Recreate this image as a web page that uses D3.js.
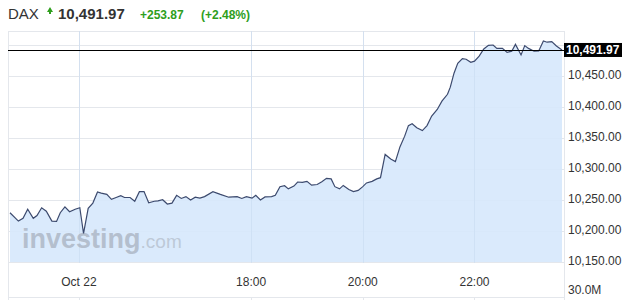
<!DOCTYPE html>
<html>
<head>
<meta charset="utf-8">
<script src="https://cdnjs.cloudflare.com/ajax/libs/d3/7.8.5/d3.min.js"></script>
<style>
  body { margin: 0; background: #fff; }
  svg { display: block; font-family: "Liberation Sans", Arial, sans-serif; }
</style>
</head>
<body>
<div id="chart-area"></div>
<script>
// Intraday DAX quotes (time of day, index level)
const times = ["13:41","13:50","13:55","14:00","14:06","14:10","14:15","14:20","14:26","14:31",
  "14:35","14:40","14:45","14:51","14:56","15:00","15:05","15:10","15:15","15:19",
  "15:25","15:30","15:35","15:40","15:44","15:50","15:55","16:00","16:05","16:10",
  "16:16","16:20","16:25","16:30","16:35","16:40","16:45","16:50","16:55","17:00",
  "17:05","17:10","17:19","17:27","17:36","17:45","17:50","17:55","18:01","18:05",
  "18:10","18:15","18:22","18:26","18:31","18:36","18:40","18:46","18:50","18:55",
  "19:00","19:05","19:11","19:16","19:21","19:26","19:30","19:35","19:39","19:45",
  "19:50","19:55","20:00","20:04","20:10","20:15","20:19","20:24","20:30","20:35",
  "20:40","20:45","20:49","20:53","20:58","21:04","21:09","21:14","21:20","21:25",
  "21:31","21:34","21:38","21:42","21:47","21:51","21:56","22:00","22:05","22:10",
  "22:15","22:20","22:24","22:30","22:35","22:40","22:44","22:50","22:54","22:58",
  "23:04","23:09","23:14","23:18","23:23","23:28","23:34"];
const prices = [10229.5,10216,10220.5,10235,10220.5,10225,10237.5,10232,10216,10215.5,
  10229.5,10239,10231,10235,10237.5,10196,10236.5,10245,10263,10261,
  10259,10251,10254,10257,10254,10254,10248,10263.5,10263.5,10245.5,
  10248,10248.5,10250.5,10243.5,10245,10257.5,10252.5,10255.5,10250,10254.5,
  10253,10255.5,10263.5,10259,10254.5,10255.5,10252.5,10255.5,10253,10257.5,
  10250,10255,10255.5,10257.5,10271.5,10273,10268,10272.5,10279,10278.5,
  10280,10274,10275,10279.5,10285,10284,10271.5,10268,10273.5,10267,
  10263.5,10265.5,10271.5,10277.5,10280,10284,10286,10323.5,10316,10312,
  10336,10353,10370,10373,10366.5,10362,10370,10385.5,10396,10409.5,
  10420.5,10432,10454.5,10470.5,10478,10477,10472,10474,10482,10493.5,
  10499.5,10500,10494.5,10494.5,10488,10490,10501,10484,10499,10494.5,
  10490,10490.5,10506.5,10504.5,10505.5,10498.5,10491.97];

const yTicks = [10150, 10200, 10250, 10300, 10350, 10400, 10450, 10500];
const xTickTimes = ["14:55", "18:00", "20:00", "22:00"];
const xTickLabels = ["Oct 22", "18:00", "20:00", "22:00"];
const lastPrice = 10491.97;
const header = {symbol: "DAX", last: "10,491.97", change: "+253.87", pct: "(+2.48%)"};
const volumeLabel = "30.0M";

const width = 627, height = 300;
const plot = {left: 8, right: 564, top: 31, bottom: 263};

const toMin = s => { const p = s.split(":"); return +p[0] * 60 + +p[1]; };
const data = times.map((t, i) => ({t: toMin(t), v: prices[i]}));

const svg = d3.select("#chart-area").append("svg")
  .attr("width", width)
  .attr("height", height);

const x = d3.scaleLinear()
  .domain(d3.extent(data, d => d.t))
  .range([10, 562]);
const y = d3.scaleLinear()
  .domain([10150, 10450])
  .range([262, 76]);

// Header
const hdr = svg.append("g");
hdr.append("text").attr("x", 8).attr("y", 19)
  .attr("font-size", 15).attr("fill", "#333").text(header.symbol);
hdr.append("path")
  .attr("d", "M47,12 L50,7 L53,12 Z M49,12 L51,12 L51,14 L49,14 Z")
  .attr("fill", "#2e9e1c");
hdr.append("text").attr("x", 58).attr("y", 19)
  .attr("font-size", 15).attr("font-weight", "bold").attr("fill", "#333").text(header.last);
hdr.append("text").attr("x", 140).attr("y", 18.5)
  .attr("font-size", 12).attr("font-weight", "bold").attr("fill", "#2e9e1c").text(header.change);
hdr.append("text").attr("x", 201).attr("y", 18.5)
  .attr("font-size", 12).attr("font-weight", "bold").attr("fill", "#2e9e1c").text(header.pct);

// Grid
const grid = svg.append("g").attr("stroke", "#e4e7ec").attr("stroke-width", 1);
grid.append("line").attr("x1", plot.left).attr("x2", plot.right)
  .attr("y1", plot.top + 0.5).attr("y2", plot.top + 0.5);
grid.selectAll(".hg").data(yTicks).join("line")
  .attr("x1", plot.left).attr("x2", plot.right)
  .attr("y1", d => Math.round(y(d)) + 0.5).attr("y2", d => Math.round(y(d)) + 0.5);
grid.selectAll(".vg").data(xTickTimes).join("line")
  .attr("x1", d => Math.round(x(toMin(d))) + 0.5).attr("x2", d => Math.round(x(toMin(d))) + 0.5)
  .attr("y1", plot.top).attr("y2", plot.bottom);
grid.append("line").attr("x1", plot.left + 0.5).attr("x2", plot.left + 0.5)
  .attr("y1", plot.top).attr("y2", height);
grid.append("line").attr("x1", plot.right + 0.5).attr("x2", plot.right + 0.5)
  .attr("y1", plot.top).attr("y2", height);
// volume pane
grid.append("line").attr("x1", plot.left).attr("x2", plot.right)
  .attr("y1", 297.5).attr("y2", 297.5);
grid.selectAll(".vv").data(xTickTimes).join("line")
  .attr("x1", d => Math.round(x(toMin(d))) + 0.5).attr("x2", d => Math.round(x(toMin(d))) + 0.5)
  .attr("y1", 297).attr("y2", height);

// Area + line
const area = d3.area()
  .x(d => x(d.t))
  .y0(y(10150))
  .y1(d => y(d.v));
const line = d3.line()
  .x(d => x(d.t))
  .y(d => y(d.v));

svg.append("path")
  .attr("d", area(data))
  .attr("fill", "#d6e8fc")
  .attr("fill-opacity", 0.9);

// vertical grid visible through the fill
svg.append("g").attr("stroke", "#c9dcf2")
  .selectAll("line").data(xTickTimes).join("line")
  .attr("x1", d => Math.round(x(toMin(d))) + 0.5).attr("x2", d => Math.round(x(toMin(d))) + 0.5)
  .attr("y1", plot.top).attr("y2", plot.bottom)
  .attr("stroke-opacity", 0.6);

// Watermark
const wm = svg.append("text").attr("x", 22).attr("y", 248);
wm.append("tspan").attr("font-size", 27).attr("font-weight", "bold")
  .attr("fill", "#aab4c2").attr("fill-opacity", 0.8).text("investing");
wm.append("tspan").attr("font-size", 19)
  .attr("fill", "#b5c0cd").attr("fill-opacity", 0.8).text(".com");

svg.append("path")
  .attr("d", line(data))
  .attr("fill", "none")
  .attr("stroke", "#3c4a6e")
  .attr("stroke-width", 1.2);

// Last price line
svg.append("line")
  .attr("x1", plot.left).attr("x2", plot.right)
  .attr("y1", Math.round(y(lastPrice)) + 0.5).attr("y2", Math.round(y(lastPrice)) + 0.5)
  .attr("stroke", "#000").attr("stroke-width", 1);

// Right axis
const yAxis = svg.append("g").attr("font-size", 12).attr("fill", "#333");
yAxis.selectAll("text").data(yTicks.filter(d => d < 10500)).join("text")
  .attr("x", 568).attr("y", d => y(d) + 3)
  .text(d => d3.format(",.2f")(d));

const tag = svg.append("g");
tag.append("rect")
  .attr("x", 564).attr("y", y(lastPrice) - 7)
  .attr("width", 58).attr("height", 14)
  .attr("fill", "#000");
tag.append("text")
  .attr("x", 566).attr("y", y(lastPrice) + 4.5)
  .attr("font-size", 12).attr("font-weight", "bold").attr("fill", "#fff")
  .text(d3.format(",.2f")(lastPrice));

// Bottom axis labels
svg.append("g").attr("font-size", 12).attr("fill", "#333")
  .selectAll("text").data(xTickTimes).join("text")
  .attr("x", d => x(toMin(d)))
  .attr("y", 286)
  .attr("text-anchor", "middle")
  .text((d, i) => xTickLabels[i]);

svg.append("text")
  .attr("x", 568).attr("y", 294)
  .attr("font-size", 12).attr("fill", "#333")
  .text(volumeLabel);
</script>
</body>
</html>
